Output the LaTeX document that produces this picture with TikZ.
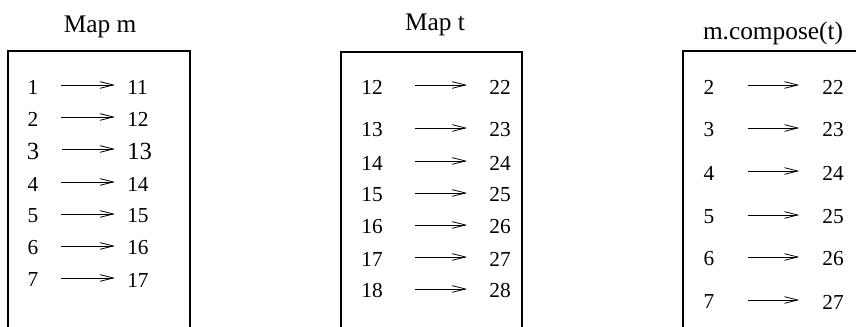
\documentclass[tikz,border=0pt]{standalone}
\usepackage{fontspec}
\setmainfont{Liberation Serif}
\usetikzlibrary{arrows.meta}
\tikzset{
  num/.style={inner sep=0pt, font=\fontsize{16}{18}\selectfont},
  bignum/.style={inner sep=0pt, font=\fontsize{18.5}{20}\selectfont},
  title/.style={inner sep=0pt, font=\fontsize{19}{21}\selectfont},
  panel/.style={draw, line width=0.8pt},
  maps/.style={-{Straight Barb[length=10pt,width=5pt]}, line width=0.6pt}
}
\begin{document}
\begin{tikzpicture}[x=0.75pt,y=-0.75pt]
  \useasboundingbox (0,0) rectangle (856,327);
  \clip (0,0) rectangle (856,327);
  % the three panels
  \draw[panel] (8,51) rectangle (190,345);
  \draw[panel] (341,52) rectangle (522,345);
  \draw[panel] (683,51) rectangle (880,345);
  \node[title] (tm) at (100,27) {Map m};
  \node[title] (tt) at (435,25) {Map t};
  \node[title] (tc) at (773,33) {m.compose(t)};
  % Map m
  \foreach \k/\y/\s in {1/87/num,2/119/num,3/151/bignum,4/184/num,5/216/num,6/248/num,7/280/num}{
    \pgfmathtruncatemacro\v{\k+10}
    \node[\s] (ml\k) at (33,\y) {\k};
    \node[\s,anchor=west] (mr\k) at (127,\y) {\v};
    \draw[maps, shorten <=17pt, shorten >=9pt] ([yshift=1.5pt]ml\k.east) -- ([yshift=1.5pt]mr\k.west);
  }
  % Map t
  \foreach \k/\y in {12/87,13/130,14/163,15/195,16/227,17/259,18/291}{
    \pgfmathtruncatemacro\v{\k+10}
    \node[num] (tl\k) at (372,\y) {\k};
    \node[num] (tr\k) at (500,\y) {\v};
    \draw[maps, shorten <=24pt, shorten >=16.5pt] ([yshift=1.5pt]tl\k.east) -- ([yshift=1.5pt]tr\k.west);
  }
  % m.compose(t)
  \foreach \k/\y in {2/87,3/130,4/173,5/217,6/259,7/302}{
    \pgfmathtruncatemacro\v{\k+20}
    \node[num] (cl\k) at (709,\y) {\k};
    \node[num] (cr\k) at (833,\y) {\v};
    \draw[maps, shorten <=25pt, shorten >=17pt] ([yshift=1.5pt]cl\k.east) -- ([yshift=1.5pt]cr\k.west);
  }
\end{tikzpicture}
\end{document}
